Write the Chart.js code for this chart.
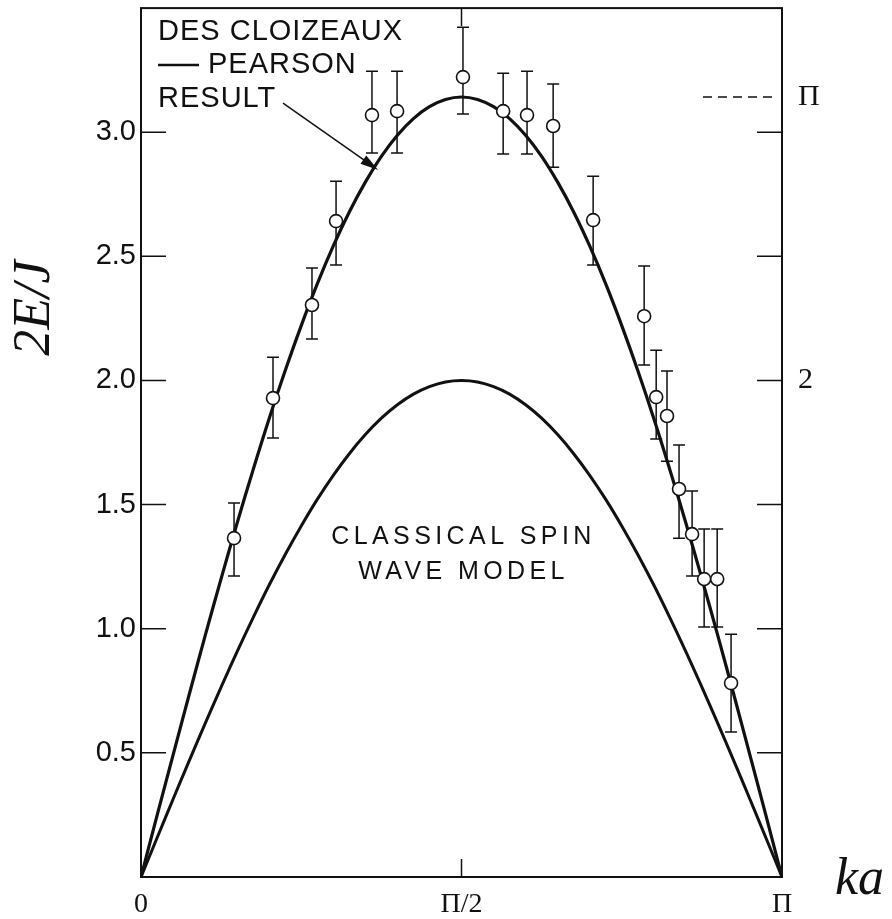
<!DOCTYPE html>
<html>
<head>
<meta charset="utf-8">
<script src="https://cdn.jsdelivr.net/npm/chart.js@4.4.1/dist/chart.umd.min.js"></script>
<style>
  html, body { margin: 0; padding: 0; background: #fff; }
  canvas { display: block; }
</style>
</head>
<body>
<canvas id="myChart" width="892" height="919"></canvas>
<script>
// #-------------- Chart Data --------------#

// Theory curves, sampled along ka
const kGrid = [0, 0.0785, 0.1571, 0.2356, 0.3142, 0.3927, 0.4712, 0.5498, 0.6283, 0.7069, 0.7854,
               0.8639, 0.9425, 1.0210, 1.0996, 1.1781, 1.2566, 1.3352, 1.4137, 1.4923, 1.5708,
               1.6493, 1.7279, 1.8064, 1.8850, 1.9635, 2.0420, 2.1206, 2.1991, 2.2777, 2.3562,
               2.4347, 2.5133, 2.5918, 2.6704, 2.7489, 2.8274, 2.9060, 2.9845, 3.0631, 3.1416];
const dcpCurve = [0, 0.247, 0.491, 0.733, 0.971, 1.202, 1.426, 1.641, 1.847, 2.040, 2.221,
                  2.389, 2.542, 2.679, 2.799, 2.903, 2.988, 3.055, 3.103, 3.132, 3.142,
                  3.132, 3.103, 3.055, 2.988, 2.903, 2.799, 2.679, 2.542, 2.389, 2.221,
                  2.040, 1.847, 1.641, 1.426, 1.202, 0.971, 0.733, 0.491, 0.247, 0];
const classicalCurve = [0, 0.157, 0.313, 0.467, 0.618, 0.765, 0.908, 1.045, 1.176, 1.299, 1.414,
                        1.521, 1.618, 1.705, 1.782, 1.848, 1.902, 1.945, 1.975, 1.994, 2.000,
                        1.994, 1.975, 1.945, 1.902, 1.848, 1.782, 1.705, 1.618, 1.521, 1.414,
                        1.299, 1.176, 1.045, 0.908, 0.765, 0.618, 0.467, 0.313, 0.157, 0];

// Measured points with error bars
const pointK  = [0.456, 0.647, 0.838, 0.956, 1.132, 1.255, 1.578, 1.775, 1.892, 2.020,
                 2.216, 2.466, 2.525, 2.578, 2.637, 2.701, 2.760, 2.824, 2.892];
const pointE  = [1.365, 1.929, 2.304, 2.642, 3.069, 3.085, 3.222, 3.085, 3.069, 3.025,
                 2.646, 2.259, 1.933, 1.857, 1.563, 1.381, 1.200, 1.200, 0.781];
const errHigh = [1.506, 2.094, 2.453, 2.803, 3.246, 3.246, 3.423, 3.238, 3.246, 3.194,
                 2.823, 2.461, 2.122, 2.038, 1.740, 1.555, 1.402, 1.402, 0.978];
const errLow  = [1.212, 1.768, 2.167, 2.465, 2.916, 2.916, 3.073, 2.912, 2.912, 2.859,
                 2.465, 2.062, 1.764, 1.675, 1.365, 1.212, 1.007, 1.007, 0.584];

// Tick values and labels
const xTickValues = [0, 1.5708, 3.1416];
const xTickLabels = ['0', 'Π/2', 'Π'];
const leftTickValues = [0.5, 1.0, 1.5, 2.0, 2.5, 3.0];
const rightTickValues = [2, 3.1416];
const rightTickLabels = ['2', 'Π'];

const ink = '#111';
var chart = document.getElementById('myChart').getContext('2d');

// #-------------- Extra drawing (frame, inward ticks, error bars, notes) --------------#

const paperPlugin = {
    id: 'paper',
    beforeDatasetsDraw(c) {
        const {ctx, chartArea: a, scales: {x, y}} = c;
        ctx.save();
        ctx.strokeStyle = ink;

        // Frame
        ctx.lineWidth = 2;
        ctx.strokeRect(a.left, a.top, a.right - a.left, a.bottom - a.top);

        // Inward tick marks on both sides
        ctx.lineWidth = 1.5;
        ctx.beginPath();
        leftTickValues.forEach(v => {
            const py = y.getPixelForValue(v);
            ctx.moveTo(a.left, py);  ctx.lineTo(a.left + 25, py);
            ctx.moveTo(a.right, py); ctx.lineTo(a.right - 25, py);
        });
        const mid = x.getPixelForValue(xTickValues[1]);
        ctx.moveTo(mid, a.bottom); ctx.lineTo(mid, a.bottom - 18);
        ctx.moveTo(mid, a.top);    ctx.lineTo(mid, a.top + 18);
        ctx.stroke();

        // Dashed marker at pi on the right axis
        ctx.setLineDash([9, 6]);
        const pyPi = y.getPixelForValue(rightTickValues[1]);
        ctx.beginPath();
        ctx.moveTo(a.right - 79, pyPi);
        ctx.lineTo(a.right - 5, pyPi);
        ctx.stroke();
        ctx.setLineDash([]);

        // Error bars
        ctx.lineWidth = 1.5;
        pointK.forEach((k, i) => {
            const px  = x.getPixelForValue(k);
            const top = y.getPixelForValue(errHigh[i]);
            const bot = y.getPixelForValue(errLow[i]);
            ctx.beginPath();
            ctx.moveTo(px, top);     ctx.lineTo(px, bot);
            ctx.moveTo(px - 6, top); ctx.lineTo(px + 6, top);
            ctx.moveTo(px - 6, bot); ctx.lineTo(px + 6, bot);
            ctx.stroke();
        });
        ctx.restore();
    },
    afterDraw(c) {
        const {ctx, chartArea: a, scales: {x, y}} = c;
        ctx.save();
        ctx.fillStyle = ink;
        ctx.strokeStyle = ink;

        // Legend text, top left
        ctx.font = '29px "Liberation Sans", Arial, sans-serif';
        ctx.letterSpacing = '1px';
        ctx.textAlign = 'left';
        ctx.textBaseline = 'middle';
        ctx.fillText('DES CLOIZEAUX', a.left + 17, a.top + 24);
        ctx.fillText('PEARSON', a.left + 67, a.top + 57);
        ctx.fillText('RESULT', a.left + 17, a.top + 91);
        ctx.lineWidth = 2.5;
        ctx.beginPath();
        ctx.moveTo(a.left + 17, a.top + 57);
        ctx.lineTo(a.left + 58, a.top + 57);
        ctx.stroke();

        // Arrow pointing at the curve
        const x0 = x.getPixelForValue(0.696), y0 = y.getPixelForValue(3.117);
        const x1 = x.getPixelForValue(1.162), y1 = y.getPixelForValue(2.848);
        const ang = Math.atan2(y1 - y0, x1 - x0);
        ctx.lineWidth = 1.5;
        ctx.beginPath();
        ctx.moveTo(x0, y0);
        ctx.lineTo(x1 - 10 * Math.cos(ang), y1 - 10 * Math.sin(ang));
        ctx.stroke();
        ctx.beginPath();
        ctx.moveTo(x1, y1);
        ctx.lineTo(x1 - 18 * Math.cos(ang) + 5 * Math.sin(ang), y1 - 18 * Math.sin(ang) - 5 * Math.cos(ang));
        ctx.lineTo(x1 - 18 * Math.cos(ang) - 5 * Math.sin(ang), y1 - 18 * Math.sin(ang) + 5 * Math.cos(ang));
        ctx.closePath();
        ctx.fill();

        // Classical curve note
        ctx.font = '25px "Liberation Sans", Arial, sans-serif';
        ctx.letterSpacing = '4.4px';
        ctx.textAlign = 'center';
        const cx = x.getPixelForValue(xTickValues[1]) + 2;
        ctx.fillText('CLASSICAL SPIN', cx, y.getPixelForValue(1.369));
        ctx.fillText('WAVE MODEL', cx, y.getPixelForValue(1.228));

        // Axis titles
        ctx.letterSpacing = '0px';
        ctx.font = 'italic 52px "Liberation Serif", "Times New Roman", serif';
        ctx.textAlign = 'left';
        ctx.textBaseline = 'alphabetic';
        ctx.fillText('ka', 835, 894);
        ctx.translate(35, 308);
        ctx.rotate(-Math.PI / 2);
        ctx.textAlign = 'center';
        ctx.textBaseline = 'middle';
        ctx.fillText('2E/J', 0, 0);
        ctx.restore();
    }
};

// #-------------- Chart --------------#

const data = {
    type: 'line',
    data: {
        datasets: [{
            label: 'Measured',
            data: pointK.map((k, i) => ({x: k, y: pointE[i]})),
            showLine: false,
            pointRadius: 6.5,
            pointBorderWidth: 1.6,
            pointBackgroundColor: '#fff',
            pointBorderColor: ink,
        }, {
            label: 'Des Cloizeaux - Pearson',
            data: kGrid.map((k, i) => ({x: k, y: dcpCurve[i]})),
            borderColor: ink,
            borderWidth: 3.2,
            pointRadius: 0,
            tension: 0.4,
        }, {
            label: 'Classical spin wave',
            data: kGrid.map((k, i) => ({x: k, y: classicalCurve[i]})),
            borderColor: ink,
            borderWidth: 3,
            pointRadius: 0,
            tension: 0.4,
        }],
    },
    options: {
        responsive: false,
        animation: false,
        devicePixelRatio: 1,
        layout: { padding: { top: 8, left: 0, right: 0, bottom: 0 } },
        plugins: { legend: { display: false }, tooltip: { enabled: false } },
        scales: {
            x: {
                type: 'linear', min: 0, max: xTickValues[2],
                grid: { display: false, drawTicks: false },
                border: { display: false },
                afterBuildTicks: s => { s.ticks = xTickValues.map(v => ({value: v})); },
                afterFit: s => { s.height = 42; s.paddingLeft = 0; s.paddingRight = 0; },
                ticks: {
                    autoSkip: false, maxRotation: 0, padding: 11, color: ink,
                    font: { family: '"Liberation Serif", serif', size: 28 },
                    callback: (v, i) => xTickLabels[i],
                },
            },
            y: {
                type: 'linear', min: 0, max: 3.5, position: 'left',
                grid: { display: false, drawTicks: false },
                border: { display: false },
                afterBuildTicks: s => { s.ticks = leftTickValues.map(v => ({value: v})); },
                afterFit: s => { s.width = 141; s.paddingTop = 0; s.paddingBottom = 0; },
                ticks: {
                    padding: 5, color: ink,
                    font: { family: '"Liberation Sans", Arial, sans-serif', size: 29 },
                    callback: v => v.toFixed(1),
                },
            },
            y2: {
                type: 'linear', min: 0, max: 3.5, position: 'right',
                grid: { display: false, drawTicks: false },
                border: { display: false },
                afterBuildTicks: s => { s.ticks = rightTickValues.map(v => ({value: v})); },
                afterFit: s => { s.width = 110; s.paddingTop = 0; s.paddingBottom = 0; },
                ticks: {
                    padding: 16, color: ink,
                    font: { family: '"Liberation Serif", serif', size: 30 },
                    callback: (v, i) => rightTickLabels[i],
                },
            },
        },
    },
    plugins: [paperPlugin],
};

let chartDisplay = new Chart(chart, data);
</script>
</body>
</html>
